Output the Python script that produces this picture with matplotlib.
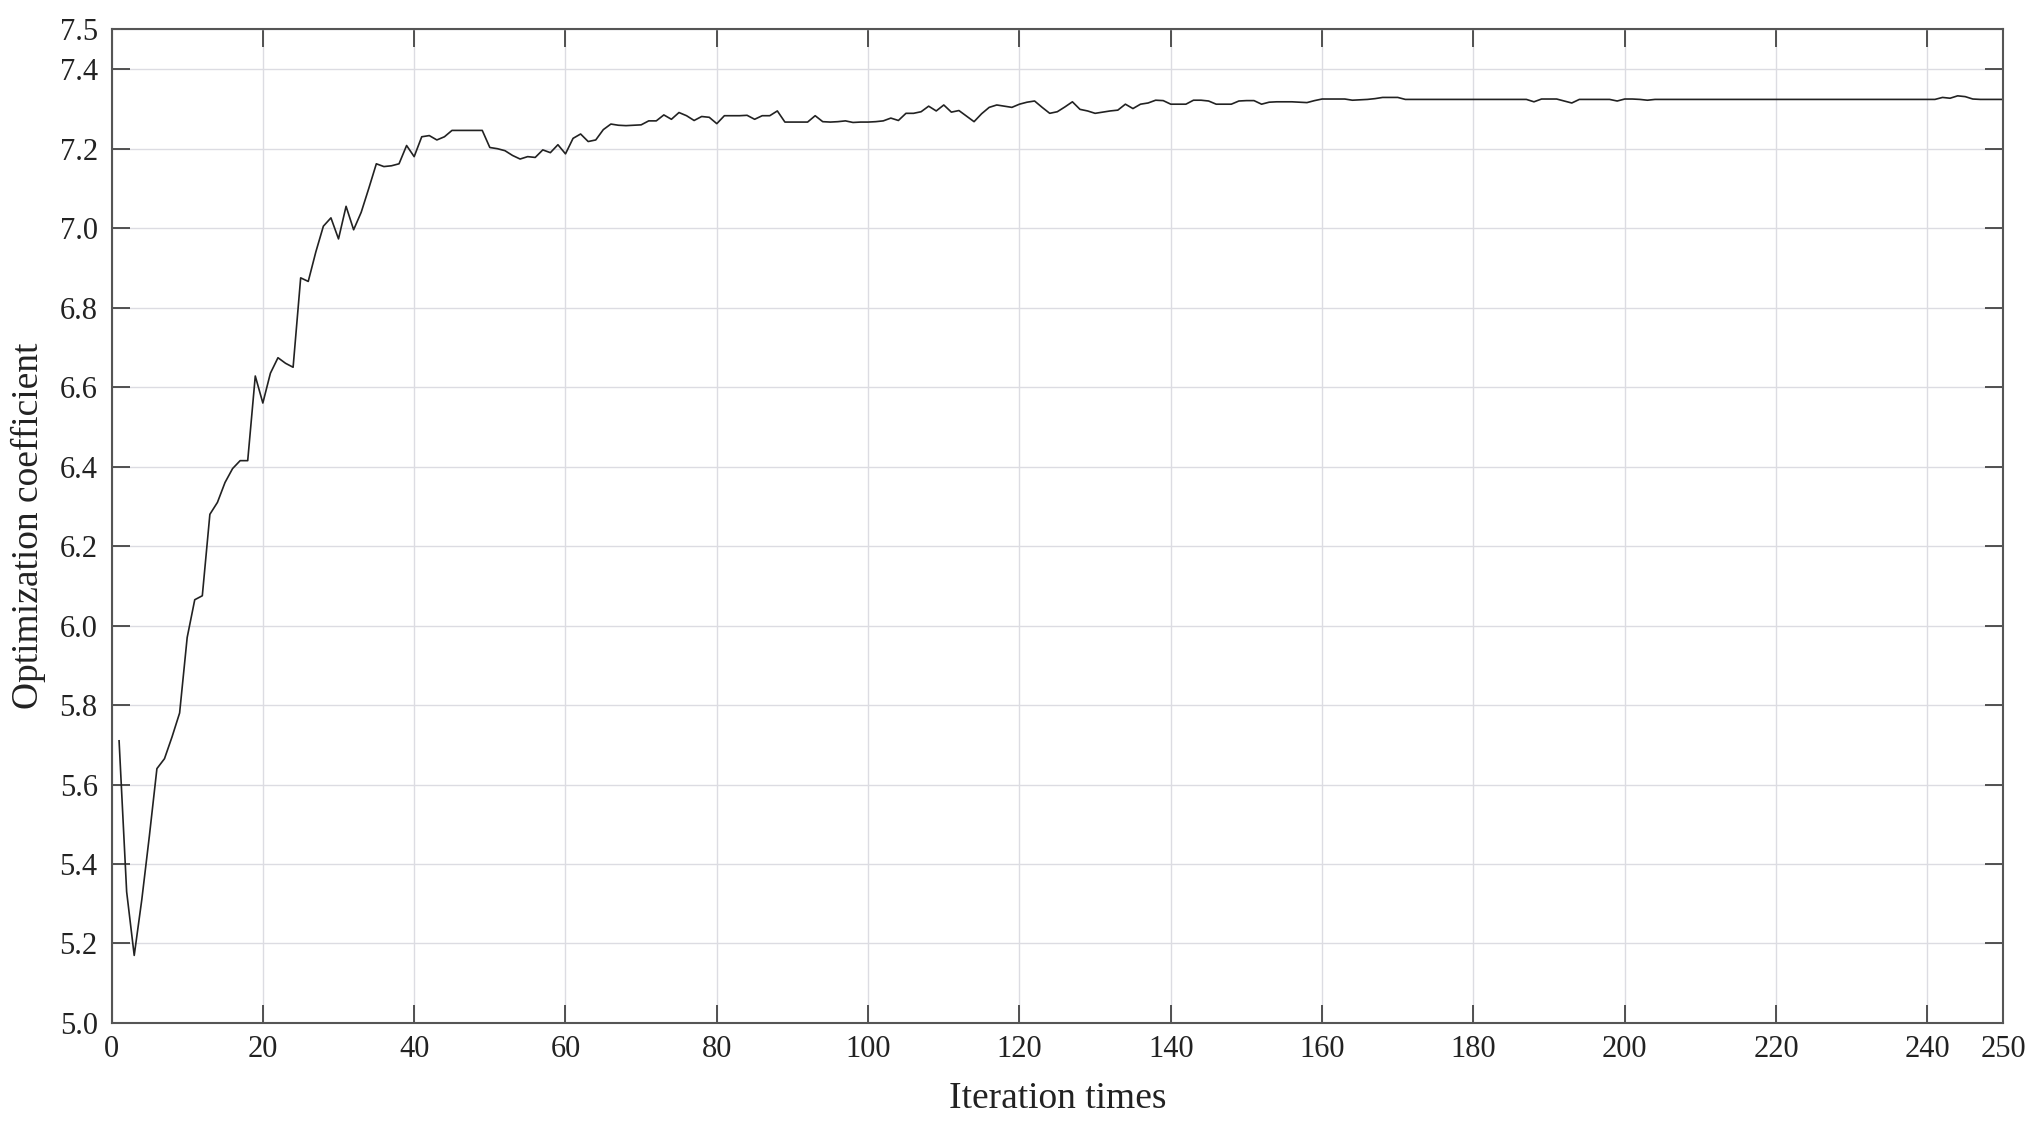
import numpy as np
import matplotlib.pyplot as plt

# Iteration index and optimization coefficient
iterations = np.arange(1, 251)
coefficient = [
    5.710, 5.330, 5.170, 5.310, 5.470, 5.640, 5.665, 5.720, 5.780, 5.970,
    6.065, 6.075, 6.280, 6.310, 6.360, 6.395, 6.415, 6.415, 6.628, 6.560,
    6.635, 6.674, 6.660, 6.650, 6.875, 6.866, 6.940, 7.005, 7.026, 6.973,
    7.055, 6.996, 7.040, 7.100, 7.162, 7.155, 7.157, 7.162, 7.208, 7.180,
    7.230, 7.233, 7.222, 7.230, 7.246, 7.246, 7.246, 7.246, 7.246, 7.203,
    7.200, 7.195, 7.183, 7.174, 7.180, 7.178, 7.197, 7.190, 7.210, 7.187,
    7.226, 7.237, 7.218, 7.222, 7.248, 7.262, 7.259, 7.258, 7.259, 7.260,
    7.270, 7.270, 7.285, 7.274, 7.291, 7.283, 7.271, 7.281, 7.279, 7.263,
    7.283, 7.283, 7.283, 7.284, 7.274, 7.283, 7.283, 7.295, 7.267, 7.267,
    7.267, 7.267, 7.283, 7.268, 7.267, 7.268, 7.270, 7.266, 7.267, 7.267,
    7.268, 7.270, 7.277, 7.271, 7.289, 7.289, 7.293, 7.307, 7.295, 7.310,
    7.292, 7.296, 7.282, 7.268, 7.288, 7.304, 7.310, 7.307, 7.304, 7.312,
    7.317, 7.320, 7.304, 7.289, 7.293, 7.305, 7.318, 7.299, 7.295, 7.289,
    7.292, 7.295, 7.297, 7.312, 7.301, 7.312, 7.315, 7.322, 7.321, 7.312,
    7.312, 7.312, 7.322, 7.322, 7.320, 7.312, 7.312, 7.312, 7.320, 7.321,
    7.321, 7.312, 7.317, 7.318, 7.318, 7.318, 7.317, 7.316, 7.321, 7.325,
    7.325, 7.325, 7.325, 7.322, 7.323, 7.324, 7.326, 7.329, 7.329, 7.329,
    7.324, 7.324, 7.324, 7.324, 7.324, 7.324, 7.324, 7.324, 7.324, 7.324,
    7.324, 7.324, 7.324, 7.324, 7.324, 7.324, 7.324, 7.318, 7.325, 7.325,
    7.325, 7.320, 7.315, 7.324, 7.324, 7.324, 7.324, 7.324, 7.320, 7.325,
    7.325, 7.324, 7.322, 7.324, 7.324, 7.324, 7.324, 7.324, 7.324, 7.324,
    7.324, 7.324, 7.324, 7.324, 7.324, 7.324, 7.324, 7.324, 7.324, 7.324,
    7.324, 7.324, 7.324, 7.324, 7.324, 7.324, 7.324, 7.324, 7.324, 7.324,
    7.324, 7.324, 7.324, 7.324, 7.324, 7.324, 7.324, 7.324, 7.324, 7.324,
    7.324, 7.329, 7.327, 7.333, 7.331, 7.325, 7.324, 7.324, 7.324, 7.324,
]

x_ticks = [0, 20, 40, 60, 80, 100, 120, 140, 160, 180, 200, 220, 240, 250]
y_ticks = [5.0, 5.2, 5.4, 5.6, 5.8, 6.0, 6.2, 6.4, 6.6, 6.8, 7.0, 7.2, 7.4, 7.5]

plt.rcParams['font.family'] = ['Liberation Serif', 'DejaVu Serif']

fig = plt.figure(figsize=(20.35, 11.25), dpi=100)
ax = fig.add_axes([0.0548, 0.0907, 0.9295, 0.8831])

ax.plot(iterations, coefficient, color='#222222', lw=1.2)

ax.set_xlim(0, 250)
ax.set_ylim(5.0, 7.5)
ax.set_xticks(x_ticks)
ax.set_yticks(y_ticks)
ax.set_xticklabels([str(t) for t in x_ticks])
ax.set_yticklabels([f'{t:.1f}' for t in y_ticks])

ax.grid(True, color='#dcdce2', lw=1.0, linestyle='-')
ax.tick_params(direction='in', length=13, width=1.3, color='#444444',
               top=True, right=True, labelsize=22, labelcolor='#222222')
ax.tick_params(axis='x', pad=9)
ax.tick_params(axis='y', pad=10)
for s in ax.spines.values():
    s.set_color('#555555')
    s.set_linewidth(1.5)

ax.set_xlabel('Iteration times', fontsize=27, labelpad=12, color='#222222')
ax.set_ylabel('Optimization coefficient', fontsize=27, labelpad=10, color='#222222')

fig.savefig('out.png', dpi=100)
